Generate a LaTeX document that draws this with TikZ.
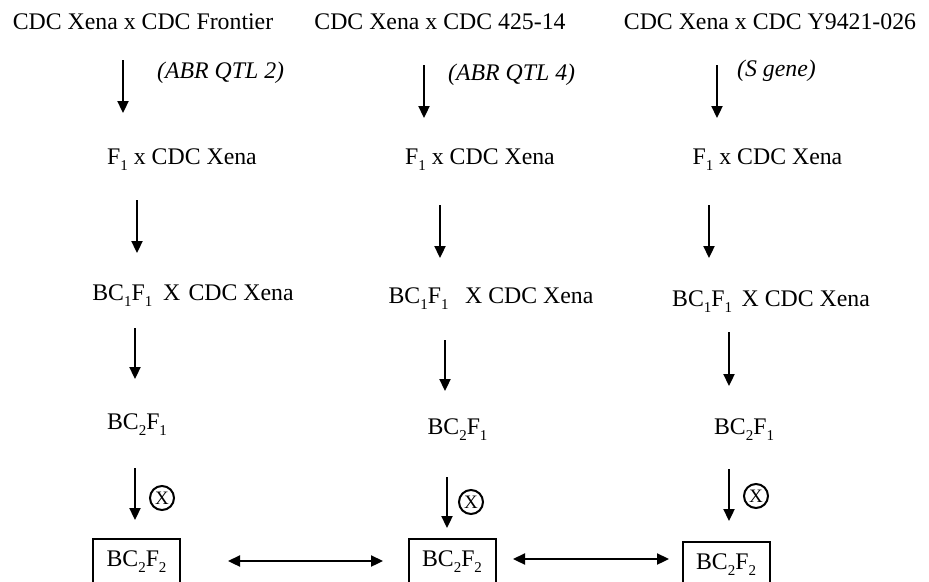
\documentclass[tikz,border=0pt]{standalone}
\usepackage{fontspec}
\setmainfont{Liberation Serif}
\usetikzlibrary{arrows.meta}
\tikzset{
  lbl/.style={inner sep=0pt, font=\fontsize{23.8}{27}\selectfont},
  ilbl/.style={inner sep=0pt, font=\fontsize{23.8}{27}\selectfont\itshape, anchor=west},
  darrow/.style={line width=2.3pt, -{Triangle[length=12pt,width=11pt]}},
  harrow/.style={line width=2.3pt, {Triangle[length=12pt,width=11pt]}-{Triangle[length=12pt,width=11pt]}},
  selfx/.style={draw, circle, line width=2pt, minimum size=24pt, inner sep=0pt, font=\fontsize{19}{20}\selectfont},
  genbox/.style={draw, line width=2pt, minimum width=87pt, minimum height=46pt, inner sep=0pt, font=\fontsize{23.8}{27}\selectfont}
}
\newcommand{\subt}[1]{\raisebox{-0.25em}{\fontsize{15}{16}\selectfont #1}}
\begin{document}
\begin{tikzpicture}[x=1pt,y=-1pt]
\useasboundingbox (0,0) rectangle (929,581);
% column 1
\node[lbl] (a1) at (143,22) {CDC Xena x CDC Frontier};
\node[ilbl] (q1) at (157,73) {(ABR QTL 2)};
\node[lbl] (b1) at (182,160) {F\subt{1} x CDC Xena};
\node[lbl] (c1) at (193,296) {BC\subt{1}F\subt{1}\hspace{0.45em}X\hspace{0.35em}CDC Xena};
\node[lbl] (d1) at (137,425) {BC\subt{2}F\subt{1}};
\node[selfx] (x1) at (162,498) {X};
\node[genbox] (e1) at (136.5,562) {BC\subt{2}F\subt{2}};
\coordinate (a1s) at (123,60); \coordinate (a1e) at (123,113);
\coordinate (b1s) at (137,200); \coordinate (b1e) at (137,253);
\coordinate (c1s) at (135,328); \coordinate (c1e) at (135,379);
\coordinate (d1s) at (135,468); \coordinate (d1e) at (135,520);
\draw[darrow] (a1s) -- (a1e);
\draw[darrow] (b1s) -- (b1e);
\draw[darrow] (c1s) -- (c1e);
\draw[darrow] (d1s) -- (d1e);
% column 2
\node[lbl] (a2) at (440,22) {CDC Xena x CDC 425-14};
\node[ilbl] (q2) at (448,75) {(ABR QTL 4)};
\node[lbl] (b2) at (480,160) {F\subt{1} x CDC Xena};
\node[lbl] (c2) at (491,299) {BC\subt{1}F\subt{1}\hspace{0.7em}X CDC Xena};
\node[lbl] (d2) at (457.5,430) {BC\subt{2}F\subt{1}};
\node[selfx] (x2) at (471,502) {X};
\node[genbox] (e2) at (452,562) {BC\subt{2}F\subt{2}};
\coordinate (a2s) at (424,65); \coordinate (a2e) at (424,118);
\coordinate (b2s) at (440,205); \coordinate (b2e) at (440,258);
\coordinate (c2s) at (445,340); \coordinate (c2e) at (445,391);
\coordinate (d2s) at (447,477); \coordinate (d2e) at (447,528);
\draw[darrow] (a2s) -- (a2e);
\draw[darrow] (b2s) -- (b2e);
\draw[darrow] (c2s) -- (c2e);
\draw[darrow] (d2s) -- (d2e);
% column 3
\node[lbl] (a3) at (770,22) {CDC Xena x CDC Y9421-026};
\node[ilbl] (q3) at (737,71) {(S gene)};
\node[lbl] (b3) at (767.5,160) {F\subt{1} x CDC Xena};
\node[lbl] (c3) at (771,302) {BC\subt{1}F\subt{1}\hspace{0.4em}X CDC Xena};
\node[lbl] (d3) at (744,430) {BC\subt{2}F\subt{1}};
\node[selfx] (x3) at (756,496) {X};
\node[genbox] (e3) at (726,565) {BC\subt{2}F\subt{2}};
\coordinate (a3s) at (717,65); \coordinate (a3e) at (717,118);
\coordinate (b3s) at (709,205); \coordinate (b3e) at (709,258);
\coordinate (c3s) at (729,332); \coordinate (c3e) at (729,386);
\coordinate (d3s) at (729,469); \coordinate (d3e) at (729,521);
\draw[darrow] (a3s) -- (a3e);
\draw[darrow] (b3s) -- (b3e);
\draw[darrow] (c3s) -- (c3e);
\draw[darrow] (d3s) -- (d3e);
% horizontal links
\coordinate (h1s) at (228,561); \coordinate (h1e) at (383,561);
\coordinate (h2s) at (513,559); \coordinate (h2e) at (669,559);
\draw[harrow] (h1s) -- (h1e);
\draw[harrow] (h2s) -- (h2e);
\end{tikzpicture}
\end{document}
